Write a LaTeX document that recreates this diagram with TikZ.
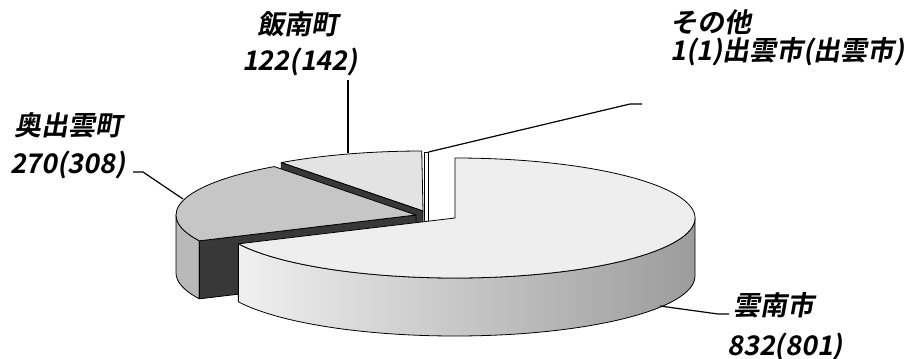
\documentclass[tikz,border=0pt]{standalone}
\usepackage{fontspec}
\usetikzlibrary{calc}
\newfontfamily\jpfont[FakeSlant=0.18]{Noto Sans CJK JP Bold}
\begin{document}
\begin{tikzpicture}[x=1pt,y=1pt,
  lbl/.style={font=\jpfont\fontsize{27}{30}\selectfont, inner sep=0pt, anchor=center},
  edge/.style={draw=black, line width=0.8pt, line join=round},
  leader/.style={draw=black, line width=1.2pt, line join=round},
  darkface/.style={edge, fill=black!78},
]
\useasboundingbox (0,0) rectangle (922,-359);
% slice centres
\coordinate (F) at (423,-211);
\coordinate (O) at (416,-215);
\coordinate (Y) at (455,-218);
% 飯南町 top face
\path[edge, fill=gray!22] (F) -- ($(F)+(126.2:240 and 60)$)
  arc[start angle=126.2, end angle=90.3, x radius=240, y radius=60] -- cycle;
% 飯南町 cut face
\path[darkface] (F) -- ($(F)+(126.2:240 and 60)$) -- ++(0,-58) -- ($(F)+(0,-58)$) -- cycle;
% その他 sliver
\path[edge, fill=white] (424,-152) rectangle (428.5,-222);
% 奥出雲町 outer wall
\path[edge, fill=gray!55] ($(O)+(180:240 and 60)$)
  arc[start angle=180, end angle=205.5, x radius=240, y radius=60] -- ++(0,-58)
  arc[start angle=205.5, end angle=180, x radius=240, y radius=60] -- cycle;
% 奥出雲町 cut face
\path[darkface] (O) -- ($(O)+(205.5:240 and 60)$) -- ++(0,-58) -- ($(O)+(0,-58)$) -- cycle;
% 奥出雲町 top face
\path[edge, fill=gray!45] (O) -- ($(O)+(126.2:240 and 60)$)
  arc[start angle=126.2, end angle=205.5, x radius=240, y radius=60] -- cycle;
% 雲南市 outer wall
\path[edge, left color=gray!12, right color=gray!78] ($(Y)+(205.5:240 and 60)$)
  arc[start angle=205.5, end angle=360, x radius=240, y radius=60] -- ++(0,-58)
  arc[start angle=360, end angle=205.5, x radius=240, y radius=60] -- cycle;
% 雲南市 top face
\path[edge, fill=gray!13] (Y) -- ($(Y)+(205.5:240 and 60)$)
  arc[start angle=205.5, end angle=450, x radius=240, y radius=60] -- cycle;

% labels
\node[lbl] (okuname) at (69,-125) {奥出雲町};
\node[lbl] (okuval) at (68,-165) {270(308)};
\node[lbl] (iiname) at (298,-24) {飯南町};
\node[lbl] (iival) at (300,-62) {122(142)};
\node[lbl, anchor=west] (soname) at (670,-22) {その他};
\node[lbl, anchor=west] (soval) at (670,-52) {1(1)出雲市(出雲市)};
\node[lbl, anchor=west] (unname) at (733,-305) {雲南市};
\node[lbl, anchor=west] (unval) at (727,-347) {832(801)};

% leader ends
\coordinate (okuA) at (133,-172);
\coordinate (okuB) at (143,-172);
\coordinate (okuC) at (183,-199);
\coordinate (iiA) at (348,-80);
\coordinate (iiB) at (348,-153);
\coordinate (soA) at (428.5,-152);
\coordinate (soB) at (630,-104);
\coordinate (soC) at (642,-104);
\coordinate (unA) at (660,-306);
\coordinate (unB) at (718,-314);
\coordinate (unC) at (729,-314);
\draw[leader] (okuA) -- (okuB) -- (okuC);
\draw[leader] (iiA) -- (iiB);
\draw[leader] (soA) -- (soB) -- (soC);
\draw[leader] (unA) -- (unB) -- (unC);
\end{tikzpicture}
\end{document}
